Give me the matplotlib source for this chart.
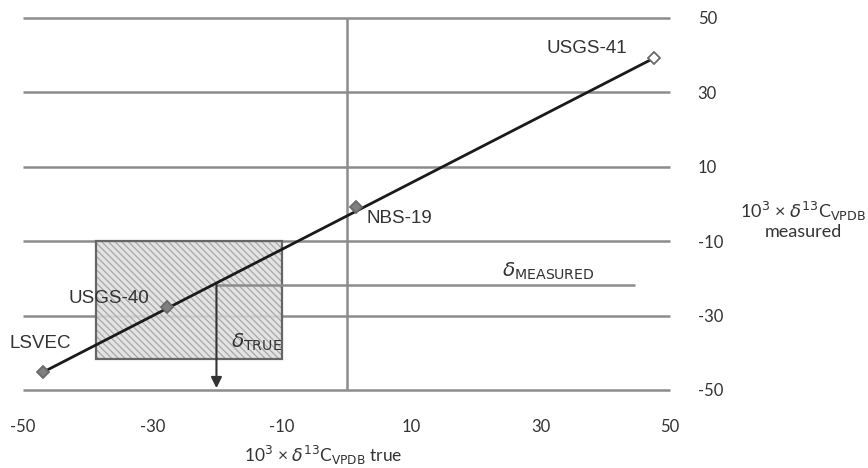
import matplotlib
matplotlib.use("Agg")
import matplotlib.pyplot as plt
from matplotlib.patches import Rectangle

# ---- data ----
point_names = ["LSVEC", "USGS-40", "NBS-19", "USGS-41"]
true_vals = [-46.9, -27.7, 1.5, 47.5]
measured_vals = [-45.2, -27.7, -0.8, 39.2]
hollow = [False, False, False, True]

x_ticks = [-50, -30, -10, 10, 30, 50]
y_ticks = [50, 30, 10, -10, -30, -50]
x_tick_labels = ["-50", "-30", "-10", "10", "30", "50"]
y_tick_labels = ["50", "30", "10", "-10", "-30", "-50"]

vertical_grid = [0]
box_x = (-38.7, -10.0)
box_y = (-41.7, -10.0)
delta_true_x = -20.1
delta_measured_y = -21.8
measured_line_end = 44.6
arrow_end_y = -49.5

label_pos = {
    "LSVEC": (-47.4, -37.6, "center"),
    "USGS-40": (-36.8, -25.5, "center"),
    "NBS-19": (3.1, -4.0, "left"),
    "USGS-41": (37.1, 41.9, "center"),
}

# ---- figure ----
fig = plt.figure(figsize=(8.68, 4.68), dpi=100)
ax = fig.add_axes([23 / 868, (468 - 390) / 468, 647 / 868, 372 / 468])
ax.set_xlim(-50, 50)
ax.set_ylim(-50, 50)
for s in ax.spines.values():
    s.set_visible(False)

grid_c = "#8c8c8c"
ax.hlines(y_ticks, -50, 50, color=grid_c, lw=1.8, zorder=1, clip_on=False)
ax.vlines(vertical_grid, -50, 50, color=grid_c, lw=1.8, zorder=1, clip_on=False)

# hatched box
plt.rcParams["hatch.linewidth"] = 0.9
ax.add_patch(Rectangle((box_x[0], box_y[0]), box_x[1] - box_x[0], box_y[1] - box_y[0],
                       facecolor="#dedede", edgecolor="none", alpha=0.85, zorder=2))
ax.add_patch(Rectangle((box_x[0], box_y[0]), box_x[1] - box_x[0], box_y[1] - box_y[0],
                       facecolor="none", edgecolor="#a8a8a8", lw=0, hatch="\\\\\\\\\\", zorder=2))
ax.add_patch(Rectangle((box_x[0], box_y[0]), box_x[1] - box_x[0], box_y[1] - box_y[0],
                       facecolor="none", edgecolor="#666666", lw=1.6, zorder=3))

# delta measured line
ax.hlines(delta_measured_y, delta_true_x, measured_line_end, color=grid_c, lw=1.8, zorder=3)

# arrow
ax.annotate("", xy=(delta_true_x, arrow_end_y), xytext=(delta_true_x, delta_measured_y),
            arrowprops=dict(arrowstyle="-|>", color="#333333", lw=1.5, mutation_scale=16,
                            shrinkA=0, shrinkB=0), zorder=4)

# calibration line
ax.plot([true_vals[0], true_vals[-1]], [measured_vals[0], measured_vals[-1]],
        color="#1a1a1a", lw=2.0, zorder=5, clip_on=False)

for x, y, h in zip(true_vals, measured_vals, hollow):
    ax.plot(x, y, marker="D", ms=6.5, mfc="white" if h else "#808080", mec="#6a6a6a",
            mew=1.3, zorder=6, clip_on=False)

for name in point_names:
    x, y, ha = label_pos[name]
    ax.text(x, y, name, ha=ha, va="center", fontsize=13.5, family="Liberation Sans",
            color="#333333", zorder=7)

ax.text(-17.8, -37.1, r"$\delta_{\mathrm{TRUE}}$", ha="left", va="center", fontsize=14.5,
        color="#333333", zorder=7)
ax.text(24.1, -18.0, r"$\delta_{\mathrm{MEASURED}}$", ha="left", va="center", fontsize=14.5,
        color="#333333", zorder=7)

# ticks
ax.set_xticks(x_ticks)
ax.set_xticklabels(x_tick_labels, family="Lato", fontsize=12, color="#333333")
ax.yaxis.tick_right()
ax.set_yticks(y_ticks)
ax.set_yticklabels(y_tick_labels, family="Lato", fontsize=12, color="#333333")
ax.tick_params(axis="x", length=0, pad=21)
ax.tick_params(axis="y", length=0, pad=20)
for lab in ax.get_yticklabels():
    lab.set_horizontalalignment("left")

# axis labels
ax.text(-3.6, -67.6, r"10$^3$ × $\delta^{13}$C$_{\mathrm{VPDB}}$ true", ha="center", va="center",
        fontsize=12.5, family="Lato", color="#333333", clip_on=False)
ax.text(70.6, -1.9, r"10$^3$ × $\delta^{13}$C$_{\mathrm{VPDB}}$", ha="center", va="center",
        fontsize=13, family="Lato", color="#333333", clip_on=False)
ax.text(70.6, -7.6, "measured", ha="center", va="center",
        fontsize=13, family="Lato", color="#333333", clip_on=False)

fig.savefig("out.png", dpi=100)
